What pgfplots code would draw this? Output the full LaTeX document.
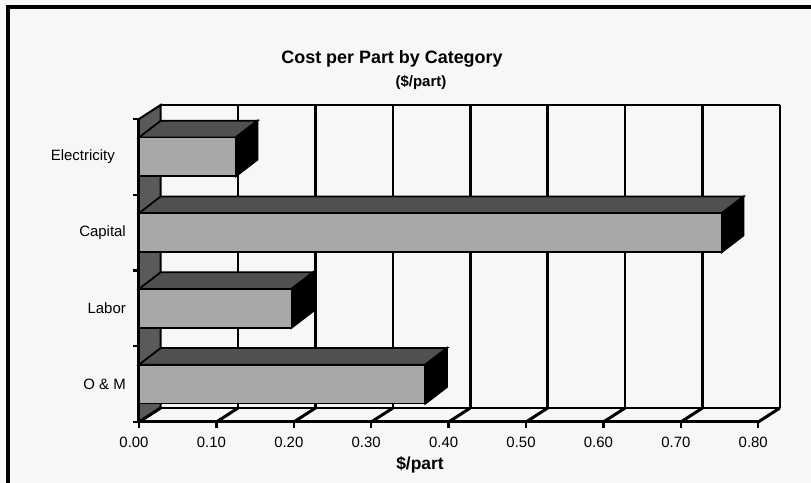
\documentclass[border=0pt]{standalone}
\usepackage{pgfplots}
\pgfplotsset{compat=1.18}
\usepackage{pgfplotstable}
\usepackage{fontspec}
\setmainfont{Liberation Sans}
\definecolor{bg}{RGB}{247,247,247}
\definecolor{frontgray}{RGB}{168,168,168}
\definecolor{topgray}{RGB}{80,80,80}
\definecolor{wallgray}{RGB}{90,90,90}

% category position (0 = bottom) and cost in $/part
\pgfplotstableread{
pos value
3 0.125
2 0.753
1 0.197
0 0.370
}\costdata

\def\dxw{0.028}
\def\dyw{0.185}
\def\dyb{0.22}
\def\hhb{0.257}

\begin{document}
\begin{tikzpicture}[x=1bp,y=1bp]
\fill[bg] (-139,-61) rectangle (672,422);
\useasboundingbox (-139,-61) rectangle (672,422);
\begin{axis}[
  at={(0,0)}, anchor=south west,
  scale only axis, width=640.9bp, height=317bp,
  xmin=0, xmax=0.828, ymin=-0.5, ymax=3.685,
  axis line style={draw=none},
  clip=false,
  tick align=outside,
  xtick pos=bottom, ytick pos=left,
  major tick length=6bp,
  tick style={black, line width=2.5bp},
  xtick={0,0.1,0.2,0.3,0.4,0.5,0.6,0.7,0.8},
  ytick={-0.5,0.5,1.5,2.5,3.5},
  yticklabels={},
  extra y ticks={0,1,2,3},
  extra y tick labels={O \& M,Labor,Capital,Electricity\hspace*{11bp}},
  extra y tick style={major tick length=0pt,
    yticklabel style={anchor=east, inner sep=0pt, xshift=-13bp}},
  xticklabel style={/pgf/number format/.cd, fixed, fixed zerofill, precision=2, assume math mode=true,
    /tikz/.cd, anchor=north, inner sep=0pt, yshift=-9bp, xshift=-5bp},
  ticklabel style={font=\fontsize{15}{18}\selectfont},
]
% back wall grid lines
\pgfplotsinvokeforeach{0.1,0.2,0.3,0.4,0.5,0.6,0.7,0.8}{
  \draw[line width=2.5bp] (#1+\dxw,-0.5+\dyw) -- (#1+\dxw,3.5+\dyw);
}
\draw[line width=2.5bp] (\dxw,3.5+\dyw) -- (0.8+\dxw,3.5+\dyw);
\draw[line width=2.5bp] (\dxw,-0.5+\dyw) -- (0.8+\dxw,-0.5+\dyw);
% left wall
\draw[fill=wallgray, line width=2bp] (0,-0.5) -- (0,3.5) -- (\dxw,3.5+\dyw) -- (\dxw,-0.5+\dyw) -- cycle;
% floor ticks
\pgfplotsinvokeforeach{0,0.1,0.2,0.3,0.4,0.5,0.6,0.7,0.8}{
  \draw[line width=3bp] (#1,-0.5) -- (#1+\dxw,-0.5+\dyw);
}
\draw[line width=3bp] (0,-0.5) -- (0.8,-0.5);
\draw[line width=3bp] (0,-0.5) -- (0,3.5);
% bar top and side faces
\pgfplotsinvokeforeach{0,1,2,3}{
  \pgfplotstablegetelem{#1}{value}\of\costdata
  \let\barv\pgfplotsretval
  \pgfplotstablegetelem{#1}{pos}\of\costdata
  \let\barc\pgfplotsretval
  \pgfmathsetmacro\ylo{\barc-\hhb}
  \pgfmathsetmacro\yhi{\barc+\hhb}
  \pgfmathsetmacro\ylob{\barc-\hhb+\dyb}
  \pgfmathsetmacro\yhib{\barc+\hhb+\dyb}
  \pgfmathsetmacro\vb{\barv+\dxw}
  \edef\temp{%
    \noexpand\addplot[fill=topgray, draw=black, line width=1.8bp, mark=none, forget plot]
      coordinates {(0,\yhi) (\barv,\yhi) (\vb,\yhib) (\dxw,\yhib)} -- cycle;
    \noexpand\addplot[fill=black, draw=black, line width=1.8bp, mark=none, forget plot]
      coordinates {(\barv,\ylo) (\vb,\ylob) (\vb,\yhib) (\barv,\yhi)} -- cycle;
  }\temp
}
% bar front faces
\addplot[xbar, bar width=0.514, bar shift=0pt, fill=frontgray, draw=black, line width=1.8bp, mark=none]
  table[x=value, y=pos]{\costdata};
\end{axis}
\node[anchor=base, font=\bfseries\fontsize{18}{21}\selectfont] at (253,358) {Cost per Part by Category};
\node[anchor=base, font=\bfseries\fontsize{15}{18}\selectfont] at (282,335) {(\$/part)};
\node[anchor=base, font=\bfseries\fontsize{17.5}{20}\selectfont] at (281,-48) {\$/part};
\draw[line width=3.5bp] (-131,-61) -- (-131,415) -- (672,415);
\end{tikzpicture}
\end{document}
